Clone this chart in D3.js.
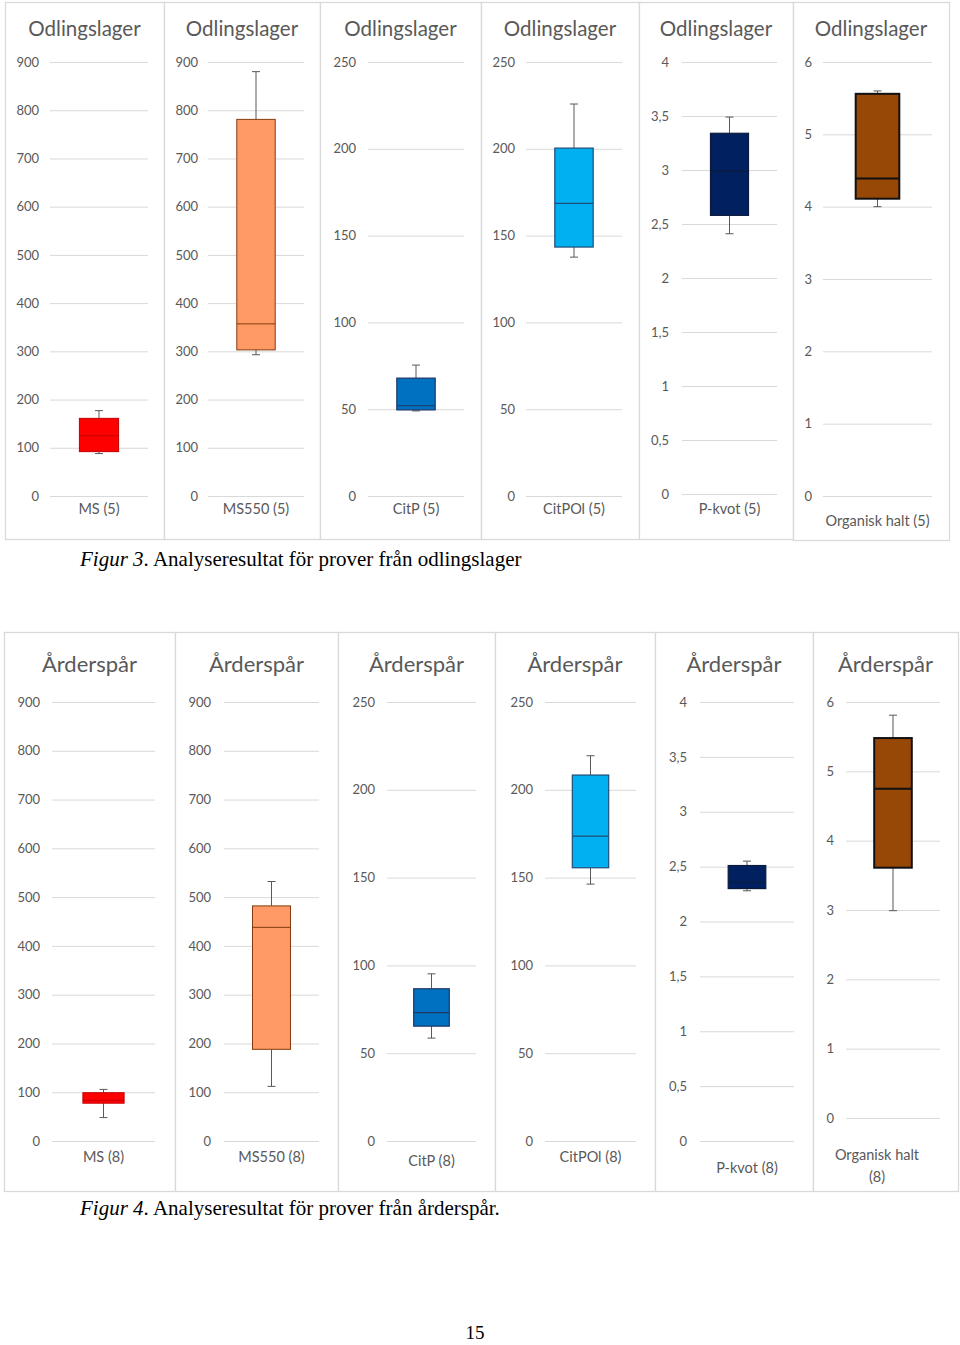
<!DOCTYPE html>
<html><head><meta charset="utf-8">
<script src="https://cdn.jsdelivr.net/npm/d3@7"></script>
<style>body{margin:0;background:#fff}</style>
</head><body><svg id="c" width="960" height="1345"></svg>
<script>
// ---------- DATA ----------
const titleOdl = "Odlingslager";
const titleArd = "Årderspår";
const labelsOdl = ["MS (5)", "MS550 (5)", "CitP (5)", "CitPOl (5)", "P-kvot (5)", "Organisk halt (5)"];
const labelsArd = ["MS (8)", "MS550 (8)", "CitP (8)", "CitPOl (8)", "P-kvot (8)", "Organisk halt (8)"];
const axisMax = [900, 900, 250, 250, 4, 6];
const ticksMS = [0, 100, 200, 300, 400, 500, 600, 700, 800, 900];
const ticksCit = [0, 50, 100, 150, 200, 250];
const ticksPkvot = [0, 0.5, 1, 1.5, 2, 2.5, 3, 3.5, 4];
const ticksOrg = [0, 1, 2, 3, 4, 5, 6];
const tickSets = [ticksMS, ticksMS, ticksCit, ticksCit, ticksPkvot, ticksOrg];

// Odlingslager (n=5)
const odlMin    = [88, 293, 49, 137.6, 2.41, 4.00];
const odlQ1     = [92, 303, 49.6, 143.4, 2.58, 4.11];
const odlMedian = [125, 357, 52, 168.6, 2.99, 4.39];
const odlQ3     = [161, 781, 67.9, 200.4, 3.34, 5.56];
const odlMax    = [177, 880, 75.4, 225.8, 3.49, 5.60];

// Årderspår (n=8)
const ardMin    = [48, 112, 58.6, 146.3, 2.28, 2.99];
const ardQ1     = [77.5, 188, 65.4, 155.6, 2.30, 3.61];
const ardMedian = [83.5, 438, 73.1, 173.6, 2.36, 4.75];
const ardQ3     = [99, 482, 86.7, 208.4, 2.51, 5.48];
const ardMax    = [105.8, 532, 95.2, 219.4, 2.55, 5.81];

// ---------- STYLE / LAYOUT ----------
const fills   = ["#FF0000", "#FF9966", "#0070C0", "#00B0F0", "#002060", "#974706"];
const strokes = ["#C00000", "#843C0C", "#1F3864", "#1F4E79", "#0C1A3C", "#111111"];
const strokeW = [1, 1, 1.2, 1.2, 1.2, 2];

const svLocale = d3.formatLocale({decimal: ",", thousands: "\u00a0", grouping: [3], currency: ["", " kr"]});
const fmt = svLocale.format("~g");

const rows = [
  {
    title: titleOdl, titleSize: 20.5, titleY: 36,
    labels: labelsOdl,
    stats: [odlMin, odlQ1, odlMedian, odlQ3, odlMax],
    boxY: [2, 539],
    panels: [
      {x0: 5,   x1: 164, g0: 50,  g1: 148, lr: 39,  yr: [496, 62], ly: 514},
      {x0: 164, x1: 320, g0: 208, g1: 304, lr: 198, yr: [496, 62], ly: 514},
      {x0: 320, x1: 481, g0: 368, g1: 464, lr: 356, yr: [496, 62], ly: 514},
      {x0: 481, x1: 639, g0: 526, g1: 622, lr: 515, yr: [496, 62], ly: 514},
      {x0: 639, x1: 793, g0: 682, g1: 777, lr: 669, yr: [494, 62], ly: 514},
      {x0: 793, x1: 949, g0: 823, g1: 932, lr: 812, yr: [496, 62], ly: 526, y1: 540}
    ]
  },
  {
    title: titleArd, titleSize: 22, titleY: 672,
    labels: labelsArd,
    stats: [ardMin, ardQ1, ardMedian, ardQ3, ardMax],
    boxY: [632, 1191],
    panels: [
      {x0: 4,   x1: 175, g0: 52,  g1: 155, lr: 40,  yr: [1141, 702], ly: 1162},
      {x0: 175, x1: 338, g0: 224, g1: 319, lr: 211, yr: [1141, 702], ly: 1162},
      {x0: 338, x1: 495, g0: 387, g1: 476, lr: 375, yr: [1141, 702], ly: 1166},
      {x0: 495, x1: 655, g0: 545, g1: 636, lr: 533, yr: [1141, 702], ly: 1162},
      {x0: 655, x1: 813, g0: 700, g1: 794, lr: 687, yr: [1141, 702], ly: 1173},
      {x0: 813, x1: 958, g0: 846, g1: 940, lr: 834, yr: [1118, 702], ly: 1160, wrap: true, ldx: -16}
    ]
  }
];

const svg = d3.select("#c");
svg.append("rect").attr("width", 960).attr("height", 1345).attr("fill", "#fff");

const FONT = "Lato, 'Open Sans', sans-serif";

rows.forEach(row => {
  row.panels.forEach((p, i) => {
    const g = svg.append("g");
    // panel frame
    g.append("rect")
      .attr("x", p.x0 + 0.5).attr("y", row.boxY[0] + 0.5)
      .attr("width", p.x1 - p.x0).attr("height", (p.y1 || row.boxY[1]) - row.boxY[0])
      .attr("fill", "#fff").attr("stroke", "#D9D9D9").attr("stroke-width", 1.3);

    // title
    g.append("text")
      .attr("x", (p.x0 + p.x1) / 2).attr("y", row.titleY)
      .attr("text-anchor", "middle")
      .attr("font-family", FONT).attr("font-size", row.titleSize)
      .attr("fill", "#595959").text(row.title);

    const y = d3.scaleLinear().domain([0, axisMax[i]]).range(p.yr);
    const xBand = d3.scaleBand().domain([row.labels[i]]).range([p.g0, p.g1]).paddingInner(0).paddingOuter(0.75);

    // axis + gridlines
    const ax = d3.axisLeft(y).tickValues(tickSets[i]).tickFormat(fmt)
      .tickSize(-(p.g1 - p.g0)).tickPadding(p.g0 - p.lr);
    const axG = g.append("g").attr("transform", `translate(${p.g0},0)`).call(ax);
    axG.select(".domain").remove();
    axG.selectAll(".tick line").attr("stroke", "#D9D9D9").attr("stroke-width", 1);
    axG.selectAll(".tick text").attr("font-family", FONT).attr("font-size", 13)
      .attr("fill", "#595959");

    // category label
    const cx = xBand(row.labels[i]) + xBand.bandwidth() / 2;
    const lab = g.append("text")
      .attr("x", cx + (p.ldx || 0)).attr("y", p.ly)
      .attr("text-anchor", "middle")
      .attr("font-family", FONT).attr("font-size", 14.5)
      .attr("fill", "#595959");
    if (p.wrap) {
      const parts = row.labels[i].split(" (");
      lab.append("tspan").attr("x", cx + (p.ldx || 0)).attr("dy", 0).text(parts[0]);
      lab.append("tspan").attr("x", cx + (p.ldx || 0)).attr("dy", 22).text("(" + parts[1]);
    } else {
      lab.text(row.labels[i]);
    }

    // box plot
    const [mn, q1, md, q3, mx] = row.stats.map(s => s[i]);
    const bx = xBand(row.labels[i]);
    const bw = xBand.bandwidth();
    const capW = 8;
    const wh = g.append("g").attr("stroke", "#595959").attr("stroke-width", 1);
    wh.append("line").attr("x1", cx).attr("x2", cx).attr("y1", y(mx)).attr("y2", y(q3));
    wh.append("line").attr("x1", cx).attr("x2", cx).attr("y1", y(q1)).attr("y2", y(mn));
    wh.append("line").attr("x1", cx - capW / 2).attr("x2", cx + capW / 2).attr("y1", y(mx)).attr("y2", y(mx));
    wh.append("line").attr("x1", cx - capW / 2).attr("x2", cx + capW / 2).attr("y1", y(mn)).attr("y2", y(mn));

    g.append("rect")
      .attr("x", bx).attr("width", bw)
      .attr("y", y(q3)).attr("height", y(q1) - y(q3))
      .attr("fill", fills[i]).attr("stroke", strokes[i]).attr("stroke-width", strokeW[i]);
    g.append("line")
      .attr("x1", bx).attr("x2", bx + bw).attr("y1", y(md)).attr("y2", y(md))
      .attr("stroke", strokes[i]).attr("stroke-width", strokeW[i]);
  });
});

// captions
const SERIF = "'Liberation Serif', 'Times New Roman', serif";
function caption(yPos, num, rest) {
  const t = svg.append("text").attr("x", 80).attr("y", yPos)
    .attr("font-family", SERIF).attr("font-size", 21).attr("fill", "#000");
  t.append("tspan").attr("font-style", "italic").text("Figur " + num);
  t.append("tspan").text(". " + rest);
}
caption(566, 3, "Analyseresultat för prover från odlingslager");
caption(1215, 4, "Analyseresultat för prover från årderspår.");

svg.append("text").attr("x", 475).attr("y", 1339).attr("text-anchor", "middle")
  .attr("font-family", SERIF).attr("font-size", 19).attr("fill", "#000").text("15");
</script>
</body></html>
